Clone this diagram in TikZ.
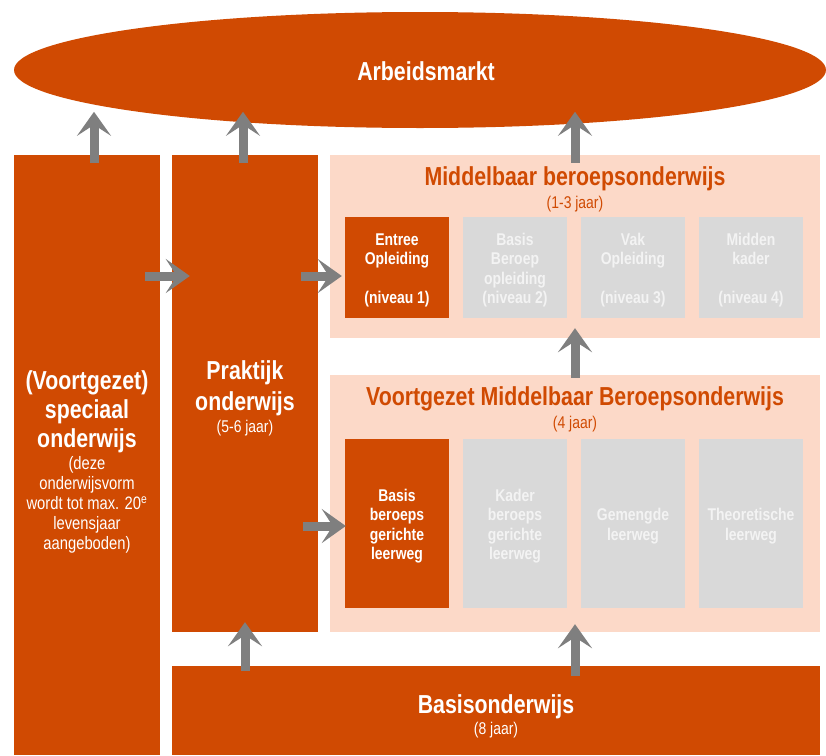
\documentclass[tikz,border=0pt]{standalone}
\usepackage{fontspec}
\setmainfont{Liberation Sans}[FakeStretch=0.82]
\usetikzlibrary{arrows.meta,shapes.geometric}
\definecolor{pwco}{RGB}{208,74,2}
\definecolor{peach}{RGB}{252,217,200}
\definecolor{lgray}{RGB}{217,217,217}
\definecolor{agray}{RGB}{127,127,127}
\definecolor{gtext}{RGB}{243,243,243}
\newcommand{\topstrut}{\rule{0pt}{18pt}}
\begin{document}
\begin{tikzpicture}[x=1pt,y=-1pt,
  obox/.style={fill=pwco, draw=none, inner sep=0pt, text=white, align=center},
  panel/.style={fill=peach, draw=none, inner sep=0pt},
  gbox/.style={fill=lgray, draw=none, inner sep=0pt, text=gtext, align=center},
  wtext/.style={text=white, inner sep=0pt, align=center},
  otext/.style={text=pwco, inner sep=0pt, align=center},
  bigfont/.style={font=\fontsize{26}{29}\selectfont\bfseries},
  subfont/.style={font=\fontsize{17}{20}\selectfont},
  boxfont/.style={font=\fontsize{17}{19.5}\selectfont\bfseries},
  mbobox/.style={minimum width=104pt, minimum height=101pt, boxfont},
  vmbobox/.style={minimum width=104pt, minimum height=169pt, boxfont},
  flow/.style={draw=agray, line width=9pt, -{Stealth[length=24pt,width=34pt,inset=11pt]}}
]
\useasboundingbox (0,0) rectangle (826,755);

% market
\node[ellipse, fill=pwco, draw=none, inner sep=0pt, minimum width=812pt, minimum height=116pt] (arbeid) at (420,70) {};
\node[wtext, font=\fontsize{26}{30}\selectfont\bfseries] (arbeidt) at (426,71) {Arbeidsmarkt};

% columns and panels
\node[obox, minimum width=146pt, minimum height=600pt] (vso) at (87,455) {};
\node[obox, minimum width=146pt, minimum height=477pt] (prak) at (245,393.5) {};
\node[panel, minimum width=490pt, minimum height=183pt] (mbo) at (575,246.5) {};
\node[panel, minimum width=490pt, minimum height=257pt] (vmbo) at (575,503.5) {};
\node[obox, minimum width=648pt, minimum height=89pt] (basis) at (496,710.5) {};

% texts of columns
\node[wtext, bigfont] (vsot) at (87,412) {(Voortgezet)\\speciaal\\onderwijs};
\node[wtext, font=\fontsize{18}{20}\selectfont] (vsos) at (87,505) {(deze\\onderwijsvorm\\wordt tot max. 20\textsuperscript{e}\\levensjaar\\aangeboden)};
\node[wtext, font=\fontsize{26}{31}\selectfont\bfseries] (prakt) at (245,388) {Praktijk\\onderwijs};
\node[wtext, subfont] (praks) at (245,428) {(5-6 jaar)};
\node[otext, bigfont] (mbot) at (575,179) {Middelbaar beroepsonderwijs};
\node[otext, subfont] (mbos) at (575,204) {(1-3 jaar)};
\node[otext, bigfont] (vmbot) at (575,399) {Voortgezet Middelbaar Beroepsonderwijs};
\node[otext, subfont] (vmbos) at (575,424) {(4 jaar)};
\node[wtext, bigfont] (basist) at (496,707) {Basisonderwijs};
\node[wtext, subfont] (basiss) at (496,730) {(8 jaar)};

% MBO levels
\node[obox, mbobox] (m1) at (397,267.5) {\topstrut Entree\\Opleiding\\\mbox{}\\(niveau 1)};
\node[gbox, mbobox] (m2) at (515,267.5) {\topstrut Basis\\Beroep\\opleiding\\(niveau 2)};
\node[gbox, mbobox] (m3) at (633,267.5) {\topstrut Vak\\Opleiding\\\mbox{}\\(niveau 3)};
\node[gbox, mbobox] (m4) at (751,267.5) {\topstrut Midden\\kader\\\mbox{}\\(niveau 4)};

% VMBO tracks
\node[obox, vmbobox] (v1) at (397,523.5) {\topstrut Basis\\beroeps\\gerichte\\leerweg};
\node[gbox, vmbobox] (v2) at (515,523.5) {\topstrut Kader\\beroeps\\gerichte\\leerweg};
\node[gbox, vmbobox] (v3) at (633,523.5) {\topstrut Gemengde\\leerweg};
\node[gbox, vmbobox] (v4) at (751,523.5) {\topstrut Theoretische\\leerweg};

% arrows
\draw[flow] ([xshift=7pt,yshift=-8pt]vso.north) -- ++(0,-51);
\draw[flow] ([xshift=-2pt,yshift=-8pt]prak.north) -- ++(0,-51);
\draw[flow] ([yshift=-8pt]mbo.north) -- ++(0,-51);
\draw[flow] ([xshift=-15pt]vso.east |- 0,276) -- ([xshift=18pt]prak.west |- 0,276);
\draw[flow] ([xshift=-17pt]prak.east |- 0,276) -- ([xshift=12pt]mbo.west |- 0,276);
\draw[flow] ([xshift=-15pt]prak.east |- 0,526) -- ([xshift=16pt]vmbo.west |- 0,526);
\draw[flow] ([yshift=-3pt]vmbo.north) -- ([yshift=10pt]mbo.south);
\draw[flow] ([yshift=-5pt]basis.north -| prak.south) -- ([yshift=10pt]prak.south);
\draw[flow] ([yshift=-10pt]basis.north -| vmbo.south) -- ([yshift=8pt]vmbo.south);
\end{tikzpicture}
\end{document}
